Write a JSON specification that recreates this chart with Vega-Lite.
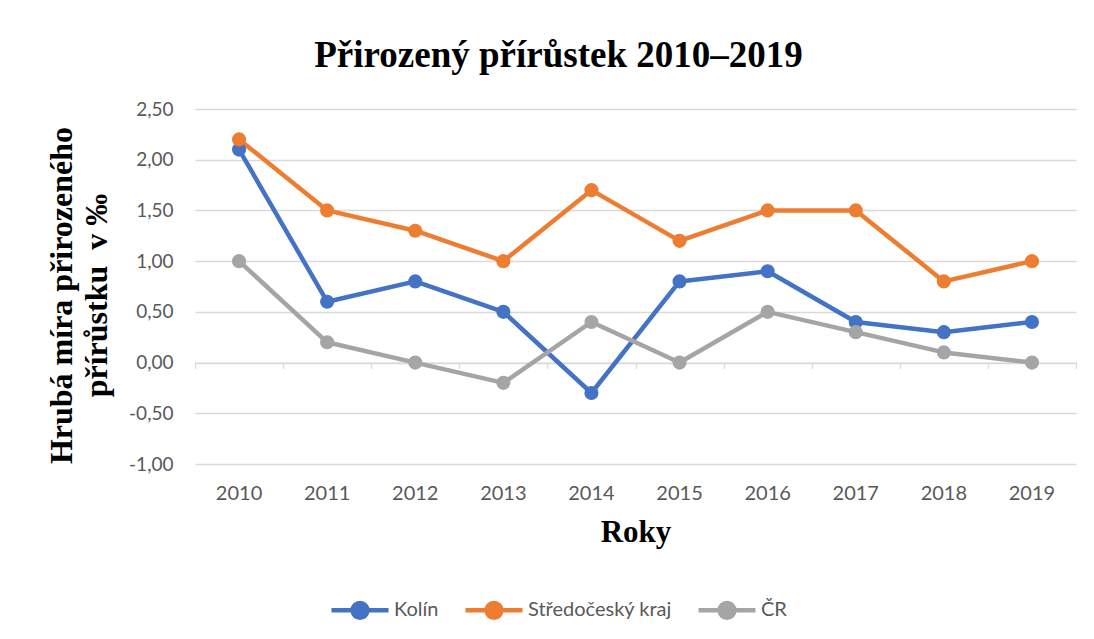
{
  "$schema": "https://vega.github.io/schema/vega-lite/v6.json",
  "width": 881,
  "height": 355,
  "autosize": {"type": "none"},
  "padding": {"left": 195, "top": 109, "right": 18, "bottom": 175},
  "background": "white",
  "title": {
    "text": "Přirozený přírůstek 2010–2019",
    "font": "Liberation Serif",
    "fontSize": 37,
    "fontWeight": "bold",
    "color": "black",
    "anchor": "middle",
    "dx": -77,
    "offset": 25
  },
  "config": {
    "view": {"stroke": null},
    "locale": {"number": {"decimal": ",", "thousands": " ", "grouping": [3], "currency": ["", ""], "minus": "-"}}
  },
  "data": {
    "values": [
      {"rok": "2010", "serie": "Kolín", "hodnota": 2.1},
      {"rok": "2011", "serie": "Kolín", "hodnota": 0.6},
      {"rok": "2012", "serie": "Kolín", "hodnota": 0.8},
      {"rok": "2013", "serie": "Kolín", "hodnota": 0.5},
      {"rok": "2014", "serie": "Kolín", "hodnota": -0.3},
      {"rok": "2015", "serie": "Kolín", "hodnota": 0.8},
      {"rok": "2016", "serie": "Kolín", "hodnota": 0.9},
      {"rok": "2017", "serie": "Kolín", "hodnota": 0.4},
      {"rok": "2018", "serie": "Kolín", "hodnota": 0.3},
      {"rok": "2019", "serie": "Kolín", "hodnota": 0.4},
      {"rok": "2010", "serie": "Středočeský kraj", "hodnota": 2.2},
      {"rok": "2011", "serie": "Středočeský kraj", "hodnota": 1.5},
      {"rok": "2012", "serie": "Středočeský kraj", "hodnota": 1.3},
      {"rok": "2013", "serie": "Středočeský kraj", "hodnota": 1.0},
      {"rok": "2014", "serie": "Středočeský kraj", "hodnota": 1.7},
      {"rok": "2015", "serie": "Středočeský kraj", "hodnota": 1.2},
      {"rok": "2016", "serie": "Středočeský kraj", "hodnota": 1.5},
      {"rok": "2017", "serie": "Středočeský kraj", "hodnota": 1.5},
      {"rok": "2018", "serie": "Středočeský kraj", "hodnota": 0.8},
      {"rok": "2019", "serie": "Středočeský kraj", "hodnota": 1.0},
      {"rok": "2010", "serie": "ČR", "hodnota": 1.0},
      {"rok": "2011", "serie": "ČR", "hodnota": 0.2},
      {"rok": "2012", "serie": "ČR", "hodnota": 0.0},
      {"rok": "2013", "serie": "ČR", "hodnota": -0.2},
      {"rok": "2014", "serie": "ČR", "hodnota": 0.4},
      {"rok": "2015", "serie": "ČR", "hodnota": 0.0},
      {"rok": "2016", "serie": "ČR", "hodnota": 0.5},
      {"rok": "2017", "serie": "ČR", "hodnota": 0.3},
      {"rok": "2018", "serie": "ČR", "hodnota": 0.1},
      {"rok": "2019", "serie": "ČR", "hodnota": 0.0}
    ]
  },
  "encoding": {
    "y": {
      "field": "hodnota",
      "type": "quantitative",
      "scale": {"domain": [-1, 2.5], "nice": false, "zero": false},
      "axis": {
        "values": [-1, -0.5, 0, 0.5, 1, 1.5, 2, 2.5],
        "format": ".2f",
        "title": ["Hrubá míra přirozeného", "přírůstku\u00a0 v ‰"],
        "titleFont": "Liberation Serif",
        "titleFontSize": 32,
        "titleFontWeight": "bold",
        "titleColor": "black",
        "titleAngle": -90,
        "titleAlign": "center",
        "titleBaseline": "alphabetic",
        "titleLineHeight": 35,
        "titleX": -124,
        "titleY": 186,
        "labelFont": "Lato",
        "labelFontSize": 19,
        "labelColor": "#595959",
        "labelPadding": 22,
        "ticks": false,
        "domain": false,
        "grid": true,
        "gridColor": "#d9d9d9",
        "gridWidth": 1.3
      }
    },
    "color": {
      "field": "serie",
      "type": "nominal",
      "scale": {"domain": ["Kolín", "Středočeský kraj", "ČR"], "range": ["#4472C4", "#ED7D31", "#A5A5A5"]},
      "legend": {
        "title": null,
        "orient": "none",
        "direction": "horizontal",
        "legendX": 134,
        "legendY": 470,
        "symbolType": "M-1,0L1,0M0.26,0A0.26,0.26,0,1,1,-0.26,0A0.26,0.26,0,1,1,0.26,0Z",
        "symbolSize": 3249,
        "symbolStrokeWidth": 4.5,
        "labelFont": "Lato",
        "labelFontSize": 20,
        "labelColor": "#595959",
        "labelOffset": 3,
        "columnPadding": 17,
        "encode": {
          "symbols": {
            "update": {
              "fill": {"scale": "color", "field": "value"},
              "stroke": {"scale": "color", "field": "value"},
              "opacity": {"value": 1}
            }
          }
        }
      }
    }
  },
  "layer": [
    {
      "mark": {"type": "line", "strokeWidth": 4.5, "strokeJoin": "round", "strokeCap": "round"},
      "encoding": {
        "x": {
          "field": "rok",
          "type": "ordinal",
          "scale": {"type": "band", "paddingInner": 0, "paddingOuter": 0},
          "axis": {
            "orient": "bottom",
            "title": "Roky",
            "titleFont": "Liberation Serif",
            "titleFontSize": 31,
            "titleFontWeight": "bold",
            "titleColor": "black",
            "titlePadding": 14,
            "labelFont": "Lato",
            "labelFontSize": 20,
            "labelColor": "#595959",
            "labelAngle": 0,
            "labelPadding": 19,
            "ticks": false,
            "domain": false,
            "grid": false
          }
        }
      }
    },
    {
      "mark": {"type": "point", "filled": true, "opacity": 1, "size": 200},
      "encoding": {
        "x": {
          "field": "rok",
          "type": "ordinal",
          "axis": {
            "orient": "bottom",
            "title": null,
            "labels": false,
            "offset": -101.4,
            "domain": true,
            "domainColor": "#d9d9d9",
            "domainWidth": 1.3,
            "ticks": true,
            "tickBand": "extent",
            "tickColor": "#d9d9d9",
            "tickWidth": 1.3,
            "tickSize": 6,
            "grid": false
          }
        }
      }
    }
  ],
  "resolve": {"axis": {"x": "independent"}}
}
